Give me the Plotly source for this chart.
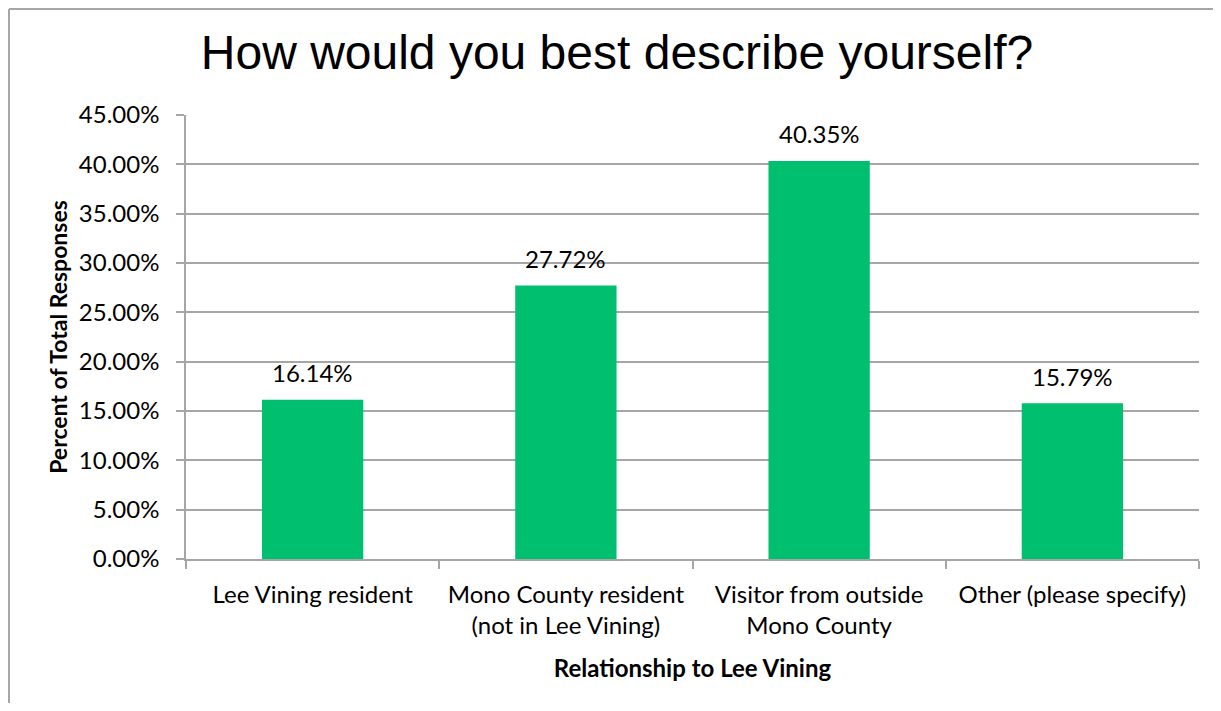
import plotly.graph_objects as go

categories = [
    "Lee Vining resident",
    "Mono County resident<br>(not in Lee Vining)",
    "Visitor from outside<br>Mono County",
    "Other (please specify)",
]
values = [0.1614, 0.2772, 0.4035, 0.1579]
labels = ["16.14%", "27.72%", "40.35%", "15.79%"]

title_text = "How would you best describe yourself?"
x_title = "Relationship to Lee Vining"
y_title = "Percent of Total Responses"

# page offset (body margin) = 8px on every side
OFF = 8
W, H = 1221 - 2 * OFF, 711 - 2 * OFF
L, R, T, B = 186 - OFF, W - (1199 - OFF), 115 - OFF, H - (559 - OFF)
pw, ph = W - L - R, H - T - B

BAR = "#00BF6F"
GRID = "#A6A6A6"
FONT = "Lato"
FS = 24

fig = go.Figure(
    go.Bar(
        x=categories,
        y=values,
        marker=dict(color=BAR, line=dict(width=0)),
        hoverinfo="x+y",
    )
)

annotations = [
    dict(
        x=c, y=v, xref="x", yref="y",
        text=t, showarrow=False,
        yanchor="middle", yshift=27,
        font=dict(family=FONT, size=FS, color="black"),
    )
    for c, v, t in zip(categories, values, labels)
]

fx0 = -(L - 1) / pw
fy1 = 1 + (T - 1) / ph
frame = dict(color="#A6A6A6", width=2)

fig.update_layout(
    width=W,
    height=H,
    margin=dict(l=L, r=R, t=T, b=B),
    paper_bgcolor="white",
    plot_bgcolor="white",
    bargap=0.6,
    showlegend=False,
    annotations=annotations,
    title=dict(
        text=title_text,
        x=(617 - OFF) / W,
        xanchor="center",
        y=1 - 44 / H,
        yanchor="middle",
        font=dict(family="Liberation Sans, Arial", size=48, color="black"),
    ),
    xaxis=dict(
        showline=True,
        linecolor=GRID,
        linewidth=1.5,
        ticks="outside",
        tickson="boundaries",
        ticklen=8,
        tickcolor=GRID,
        tickwidth=1.5,
        showgrid=False,
        ticklabelstandoff=13,
        tickfont=dict(family=FONT, size=FS, color="black"),
        title=dict(
            text="<b>" + x_title + "</b>",
            font=dict(family=FONT, size=FS, color="black"),
            standoff=22,
        ),
    ),
    yaxis=dict(
        range=[0, 0.45],
        dtick=0.05,
        tickformat=".2%",
        showline=True,
        linecolor=GRID,
        linewidth=1.5,
        ticks="outside",
        ticklen=8,
        tickcolor=GRID,
        tickwidth=1.5,
        showgrid=True,
        gridcolor=GRID,
        gridwidth=1.5,
        zeroline=False,
        ticklabelstandoff=12,
        tickfont=dict(family=FONT, size=FS, color="black"),
        title=dict(
            text="<b>" + y_title + "</b>",
            font=dict(family=FONT, size=FS - 1, color="black"),
            standoff=5,
        ),
    ),
    shapes=[
        dict(type="line", xref="paper", yref="paper",
             x0=fx0, x1=1 + (R + 80) / pw, y0=fy1, y1=fy1,
             line=frame, layer="below"),
        dict(type="line", xref="paper", yref="paper",
             x0=fx0, x1=fx0, y0=-(B + 80) / ph, y1=fy1,
             line=frame, layer="below"),
    ],
)

fig.write_html("out.html")
